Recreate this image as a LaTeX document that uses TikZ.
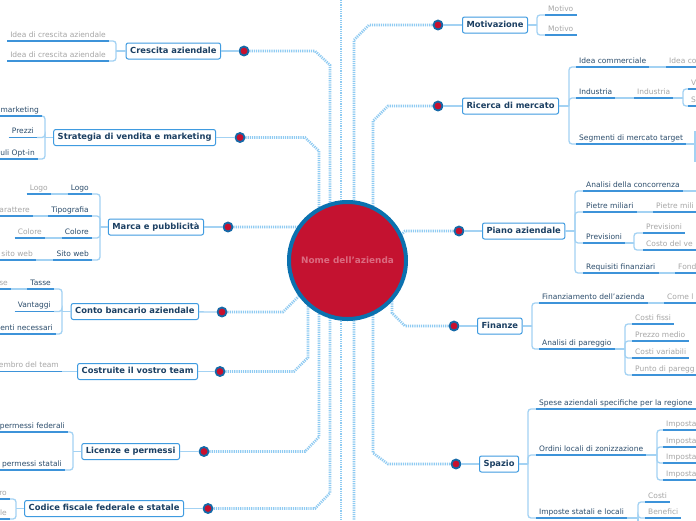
\documentclass[tikz,border=0pt]{standalone}
\usepackage{fontspec}
\setmainfont{DejaVu Sans}
\usetikzlibrary{backgrounds}
\definecolor{trunkc}{HTML}{8FCBF2}
\definecolor{dotb}{HTML}{1469A8}
\definecolor{dotr}{HTML}{C8102E}
\definecolor{boxc}{HTML}{3F9BE0}
\definecolor{titc}{HTML}{1B3F62}
\definecolor{subc}{HTML}{2C4D6C}
\definecolor{gryc}{HTML}{A6A6A6}
\definecolor{ulc}{HTML}{3D93D9}
\definecolor{lkc}{HTML}{A3D2F3}
\definecolor{crim}{HTML}{C41230}
\definecolor{cblue}{HTML}{0B71AF}
\definecolor{ctxt}{HTML}{DB6B80}
\newcommand{\mysq}{{\char"27}}
\begin{document}
\begin{tikzpicture}[x=1pt,y=-1pt,
  trunk/.style={draw=trunkc, line width=2.6pt, dash pattern=on 1.2pt off 1pt},
  hubdot/.style={circle, draw=dotb, line width=1.8pt, fill=dotr, minimum size=9pt, inner sep=0pt},
  ttl/.style={draw=boxc, line width=1pt, fill=white, rounded corners=2pt, font=\fontsize{8.35}{10}\selectfont\bfseries, text=titc, text height=6.3pt, text depth=1.9pt, inner xsep=4pt, inner ysep=3.9pt},
  subn/.style={font=\fontsize{7.5}{9}\selectfont, text=subc, text height=5.5pt, text depth=1.5pt, inner ysep=2pt, inner xsep=3pt},
  grn/.style={subn, text=gryc},
  uline/.style={draw=ulc, line width=1.3pt},
  lnk/.style={draw=lkc, line width=1.3pt, rounded corners=3pt},
]
\useasboundingbox (0,0) rectangle (696,520);
\clip (0,0) rectangle (696,520);

% centre
\node[circle, fill=crim, draw=cblue, line width=4pt, minimum size=117pt, inner sep=0pt, font=\fontsize{8.9}{10}\selectfont\bfseries, text=ctxt] (ctr) at (347.5,260.5) {Nome dell\mysq azienda};

% titles left
\node[ttl, anchor=east] (cres) at (221,51) {Crescita aziendale};
\node[ttl, anchor=east] (strat) at (216,137.5) {Strategia di vendita e marketing};
\node[ttl, anchor=east] (marca) at (204,227) {Marca e pubblicità};
\node[ttl, anchor=east] (conto) at (199,311.5) {Conto bancario aziendale};
\node[ttl, anchor=east] (team) at (198,371.5) {Costruite il vostro team};
\node[ttl, anchor=east] (lic) at (180,451.5) {Licenze e permessi};
\node[ttl, anchor=east] (cod) at (184,508.5) {Codice fiscale federale e statale};
% titles right
\node[ttl, anchor=west] (mot) at (462,25) {Motivazione};
\node[ttl, anchor=west] (ric) at (462,106) {Ricerca di mercato};
\node[ttl, anchor=west] (piano) at (482,231) {Piano aziendale};
\node[ttl, anchor=west] (fin) at (477,326) {Finanze};
\node[ttl, anchor=west] (spa) at (479,464) {Spazio};

% dots
\node[hubdot] (dcres) at (244,51) {};
\node[hubdot] (dstrat) at (240,137.5) {};
\node[hubdot] (dmarca) at (228,227) {};
\node[hubdot] (dconto) at (222,312) {};
\node[hubdot] (dteam) at (220,371.5) {};
\node[hubdot] (dlic) at (204,451.5) {};
\node[hubdot] (dcod) at (208,508.5) {};
\node[hubdot] (dmot) at (438,25) {};
\node[hubdot] (dric) at (438,106) {};
\node[hubdot] (dpiano) at (459,231) {};
\node[hubdot] (dfin) at (454,326) {};
\node[hubdot] (dspa) at (456,464) {};

\foreach \a/\b in {dcres/cres,dstrat/strat,dmarca/marca,dconto/conto,dteam/team,dlic/lic,dcod/cod,dmot/mot,dric/ric,dpiano/piano,dfin/fin,dspa/spa}
  \draw[lnk] (\a) -- (\b);

% bars
\coordinate (bcres) at (116,51);
\coordinate (bstrat) at (45,137.5);
\coordinate (bmarca) at (100,227);
\coordinate (bconto) at (62,311.5);
\coordinate (blic) at (73,451.5);
\coordinate (bcod) at (16,508.5);
\coordinate (bmot) at (537,25);
\coordinate (bric) at (569,106);
\coordinate (bpiano) at (575,231);
\coordinate (bfin) at (532,326);
\coordinate (bspa) at (528,464);
\foreach \a/\b in {cres/bcres,strat/bstrat,marca/bmarca,conto/bconto,lic/blic,cod/bcod}
  \draw[lnk] (\a.west) -- (\b);
\foreach \a/\b in {mot/bmot,ric/bric,piano/bpiano,fin/bfin,spa/bspa}
  \draw[lnk] (\a.east) -- (\b);

% ---- left children
\node[grn, anchor=south east] (cr1) at (109,41) {Idea di crescita aziendale};
\node[grn, anchor=south east] (cr2) at (109,61) {Idea di crescita aziendale};
\node[subn, anchor=south east] (st1) at (42,116) {marketing};
\node[subn, anchor=south east] (st2) at (37,137.5) {Prezzi};
\node[subn, anchor=south east] (st3) at (38,159) {uli Opt-in};
\node[subn, anchor=south east] (ma1) at (92,194) {Logo};
\node[grn, anchor=south east] (ma1g) at (51,194) {Logo};
\node[subn, anchor=south east] (ma2) at (92,216) {Tipografia};
\node[grn, anchor=south east] (ma2g) at (33,216) {arattere};
\node[subn, anchor=south east] (ma3) at (92,238) {Colore};
\node[grn, anchor=south east] (ma3g) at (45,238) {Colore};
\node[subn, anchor=south east] (ma4) at (92,260) {Sito web};
\node[grn, anchor=south east] (ma4g) at (36,260) {sito web};
\node[subn, anchor=south east] (co1) at (54,289) {Tasse};
\node[grn, anchor=south east] (co1g) at (11,289) {se};
\node[subn, anchor=south east] (co2) at (54,311.5) {Vantaggi};
\node[subn, anchor=south east] (co3) at (56,334) {enti necessari};
\node[grn, anchor=south east] (te1) at (62,371.5) {embro del team};
\node[subn, anchor=south east] (li1) at (68,432) {permessi federali};
\node[subn, anchor=south east] (li2) at (65,470) {permessi statali};
\node[grn, anchor=south east] (cf1) at (10,499) {ro};
\node[grn, anchor=south east] (cf2) at (10,519) {le};

\foreach \a/\b in {bcres/cr1,bcres/cr2,bstrat/st1,bstrat/st2,bstrat/st3,bmarca/ma1,bmarca/ma2,bmarca/ma3,bmarca/ma4,bconto/co1,bconto/co2,bconto/co3,blic/li1,blic/li2,bcod/cf1,bcod/cf2}
  \draw[lnk] (\a) |- (\b.south east);
\foreach \a/\b in {ma1/ma1g,ma2/ma2g,ma3/ma3g,ma4/ma4g,co1/co1g}
  \draw[lnk] (\a.south west) -- (\b.south east);
\draw[lnk] (te1.south east) -- (team.west);

% ---- right children
\node[grn, anchor=south west] (mo1) at (545,15) {Motivo};
\node[grn, anchor=south west] (mo2) at (545,35) {Motivo};
\node[subn, anchor=south west] (ri1) at (576,67) {Idea commerciale};
\node[grn, anchor=south west] (ri1g) at (666,67) {Idea co};
\node[subn, anchor=south west] (ri2) at (576,98) {Industria};
\node[grn, anchor=south west] (ri2g) at (634,98) {Industria};
\coordinate (bri2) at (683,98);
\node[grn, anchor=south west] (ri2a) at (688,89) {V};
\node[grn, anchor=south west] (ri2b) at (688,106) {S};
\node[subn, anchor=south west] (ri3) at (576,144) {Segmenti di mercato target};
\coordinate (bri3) at (695,144);
\coordinate (bri3t) at (695,131);
\coordinate (bri3b) at (695,162);
\node[subn, anchor=south west] (pi1) at (583,191) {Analisi della concorrenza};
\coordinate (pi1x) at (705,191);
\node[subn, anchor=south west] (pi2) at (583,212) {Pietre miliari};
\node[grn, anchor=south west] (pi2g) at (653,212) {Pietre mili};
\node[subn, anchor=south west] (pi3) at (583,243) {Previsioni};
\coordinate (bpi3) at (634,243);
\node[grn, anchor=south west] (pi3a) at (643,233) {Previsioni};
\node[grn, anchor=south west] (pi3b) at (643,250) {Costo del ve};
\node[subn, anchor=south west] (pi4) at (583,273) {Requisiti finanziari};
\node[grn, anchor=south west] (pi4g) at (675,273) {Fond};
\node[subn, anchor=south west] (fi1) at (539,303) {Finanziamento dell\mysq azienda};
\node[grn, anchor=south west] (fi1g) at (664,303) {Come l};
\node[subn, anchor=south west] (fi2) at (539,349) {Analisi di pareggio};
\coordinate (bfi2) at (625,349);
\node[grn, anchor=south west] (fi2a) at (632,324) {Costi fissi};
\node[grn, anchor=south west] (fi2b) at (632,341) {Prezzo medio};
\node[grn, anchor=south west] (fi2c) at (632,358) {Costi variabili};
\node[grn, anchor=south west] (fi2d) at (632,375) {Punto di paregg};
\node[subn, anchor=south west] (sp1) at (536,409) {Spese aziendali specifiche per la regione};
\node[subn, anchor=south west] (sp2) at (536,455) {Ordini locali di zonizzazione};
\coordinate (bsp2) at (657,455);
\node[grn, anchor=south west] (sp2a) at (663,430) {Imposta};
\node[grn, anchor=south west] (sp2b) at (663,447) {Imposta};
\node[grn, anchor=south west] (sp2c) at (663,463) {Imposta};
\node[grn, anchor=south west] (sp2d) at (663,480) {Imposta};
\node[subn, anchor=south west] (sp3) at (536,518) {Imposte statali e locali};
\coordinate (bsp3) at (638,518);
\coordinate (bsp3x) at (638,540);
\node[grn, anchor=south west] (sp3a) at (645,502) {Costi};
\node[grn, anchor=south west] (sp3b) at (645,518) {Benefici};

\foreach \a/\b in {bmot/mo1,bmot/mo2,bric/ri1,bric/ri2,bric/ri3,bri2/ri2a,bri2/ri2b,bpiano/pi1,bpiano/pi2,bpiano/pi3,bpiano/pi4,bpi3/pi3a,bpi3/pi3b,bfin/fi1,bfin/fi2,bfi2/fi2a,bfi2/fi2b,bfi2/fi2c,bfi2/fi2d,bspa/sp1,bspa/sp2,bspa/sp3,bsp2/sp2a,bsp2/sp2b,bsp2/sp2c,bsp2/sp2d,bsp3/sp3a,bsp3/sp3b}
  \draw[lnk] (\a) |- (\b.south west);
\foreach \a/\b in {ri1/ri1g,ri2/ri2g,pi2/pi2g,pi4/pi4g,fi1/fi1g}
  \draw[lnk] (\a.south east) -- (\b.south west);
\foreach \a/\b in {ri2g/bri2,ri3/bri3,pi3/bpi3,fi2/bfi2,sp2/bsp2,sp3/bsp3}
  \draw[lnk] (\a.south east) -- (\b);
\draw[lnk] (pi1.south east) -- (pi1x);
\draw[lnk] (bri3t) -- (bri3b);
\draw[lnk] (bsp3) -- (bsp3x);

% underlines
\foreach \n in {cr1,cr2,st1,st2,st3,ma1,ma1g,ma2,ma2g,ma3,ma3g,ma4,ma4g,co1,co1g,co2,co3,te1,li1,li2,cf1,cf2,mo1,mo2,ri1,ri1g,ri2,ri2g,ri2a,ri2b,ri3,pi1,pi2,pi2g,pi3,pi3a,pi3b,pi4,pi4g,fi1,fi1g,fi2,fi2a,fi2b,fi2c,fi2d,sp1,sp2,sp2a,sp2b,sp2c,sp2d,sp3,sp3a,sp3b}
  \draw[uline] (\n.south west) -- (\n.south east);

% trunks
\coordinate (top341) at (341,0);
\coordinate (bot341) at (341,520);
\coordinate (bot354) at (354,520);
\begin{scope}[on background layer]
  \fill[white] (0,0) rectangle (696,520);
  \clip (0,0) rectangle (696,520);
  \draw[trunk] (dcres) -- (315,51) -- (330,65) -- (330,493) -- (315,508.5) -- (dcod);
  \draw[trunk] (dstrat) -- (305,137.5) -- (319,151) -- (319,437) -- (305,451.5) -- (dlic);
  \draw[trunk] (dmarca) -- (300,227) -- (ctr.center);
  \draw[trunk] (dconto) -- (283,312) -- (301,294) -- (ctr.center);
  \draw[trunk] (dteam) -- (294,371.5) -- (308,357.5) -- (308,300) -- (ctr.center);
  \draw[trunk] (top341) -- (bot341);
  \draw[trunk] (dmot) -- (369,25) -- (354,40) -- (bot354);
  \draw[trunk] (dric) -- (388,106) -- (373,121) -- (373,453) -- (388,464) -- (dspa);
  \draw[trunk] (dpiano) -- (405,231) -- (398,238) -- (ctr.center);
  \draw[trunk] (dfin) -- (405,326) -- (392,313) -- (392,298) -- (ctr.center);
\end{scope}
\end{tikzpicture}
\end{document}
